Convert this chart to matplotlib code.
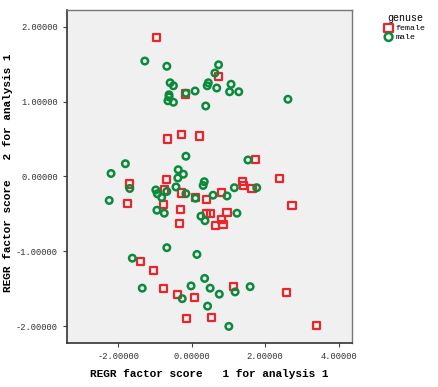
import matplotlib.pyplot as plt
from matplotlib.ticker import FormatStrFormatter

# factor scores
female_x = [-0.97, 0.74, -0.16, -0.67, -0.28, 0.21, 1.74, 2.39, -1.69, -0.68,
            1.37, 1.42, 1.64, -0.75, -0.28, 0.09, 0.39, 0.81, -1.74, -0.78,
            -0.30, -0.34, 0.39, 0.51, 0.64, 0.85, 0.80, 0.96, 2.73, -1.40,
            -1.04, -0.78, -0.38, 0.08, 1.13, 2.57, -0.14, 0.53, 3.39]
female_y = [1.85, 1.33, 1.10, 0.50, 0.56, 0.54, 0.23, -0.03, -0.10, -0.04,
            -0.07, -0.12, -0.16, -0.18, -0.22, -0.28, -0.31, -0.21, -0.36, -0.37,
            -0.44, -0.63, -0.49, -0.50, -0.65, -0.64, -0.58, -0.48, -0.39, -1.13,
            -1.25, -1.49, -1.57, -1.61, -1.47, -1.55, -1.90, -1.88, -1.99]

male_x = [-1.28, -0.68, 0.73, 0.63, -0.59, -0.50, 0.45, 0.42, 0.68, 1.07,
          1.03, 1.28, 0.09, -0.16, -0.62, -0.62, -0.65, -0.50, 0.38, 2.62,
          -0.16, 1.53, -1.81, -2.20, -0.37, -0.23, -0.38, 0.34, 0.31, -0.43,
          -1.69, -0.98, -0.94, -0.68, -0.82, 1.16, 1.77, 0.58, 0.96, -0.16,
          0.10, -2.25, -0.95, -0.75, 0.25, 0.36, 1.23, -0.68, 0.14, -1.62,
          0.35, -1.35, -0.02, 0.50, 0.75, -0.26, 1.18, 1.59, 0.43, 1.01]
male_y = [1.54, 1.47, 1.49, 1.38, 1.25, 1.21, 1.25, 1.21, 1.18, 1.23,
          1.13, 1.13, 1.14, 1.11, 1.09, 1.06, 1.01, 0.99, 0.94, 1.03,
          0.27, 0.22, 0.17, 0.04, 0.09, 0.03, -0.02, -0.07, -0.12, -0.14,
          -0.16, -0.18, -0.23, -0.20, -0.28, -0.15, -0.15, -0.25, -0.26, -0.23,
          -0.29, -0.32, -0.45, -0.49, -0.53, -0.59, -0.49, -0.95, -1.04, -1.09,
          -1.36, -1.49, -1.46, -1.49, -1.57, -1.63, -1.54, -1.47, -1.73, -2.00]

x_ticks = [-2, 0, 2, 4]
y_ticks = [-2, -1, 0, 1, 2]

mono = "Liberation Mono"
red = "#e8262c"
green = "#0b8a3c"

fig = plt.figure(figsize=(4.38, 3.87), dpi=100)
ax = fig.add_axes([0.153, 0.114, 0.651, 0.860])
ax.set_facecolor("#f0f0f0")

ax.scatter(female_x, female_y, marker="s", s=26, facecolors="none",
           edgecolors=red, linewidths=1.6, label="female", zorder=3)
ax.scatter(male_x, male_y, marker="o", s=22, facecolors="none",
           edgecolors=green, linewidths=1.8, label="male", zorder=3)

ax.set_xlim(-3.40, 4.37)
ax.set_ylim(-2.22, 2.22)
ax.set_xticks(x_ticks)
ax.set_yticks(y_ticks)
ax.xaxis.set_major_formatter(FormatStrFormatter("%.5f"))
ax.yaxis.set_major_formatter(FormatStrFormatter("%.5f"))
ax.tick_params(labelsize=6.3, length=3, color="#444444", labelcolor="#333333")
for lab in ax.get_xticklabels() + ax.get_yticklabels():
    lab.set_family(mono)

for side in ["top", "right"]:
    ax.spines[side].set_color("#777777")
    ax.spines[side].set_linewidth(1.0)
for side in ["left", "bottom"]:
    ax.spines[side].set_color("#333333")
    ax.spines[side].set_linewidth(1.2)

ax.set_xlabel("REGR factor score   1 for analysis 1", family=mono,
              fontweight="bold", fontsize=8, labelpad=6)
ax.set_ylabel("REGR factor score   2 for analysis 1", family=mono,
              fontweight="bold", fontsize=8)
ax.yaxis.set_label_coords(-0.19, 0.51)

leg = fig.legend(loc="upper left", bbox_to_anchor=(0.872, 0.975),
                 title="genuse", frameon=False, handletextpad=0.4,
                 borderaxespad=0, labelspacing=0.15, handlelength=0.8,
                 markerscale=1.2, prop={"family": mono, "size": 6.0})
leg.get_title().set_family(mono)
leg.get_title().set_fontsize(7.2)

fig.savefig("out.png", dpi=100)
